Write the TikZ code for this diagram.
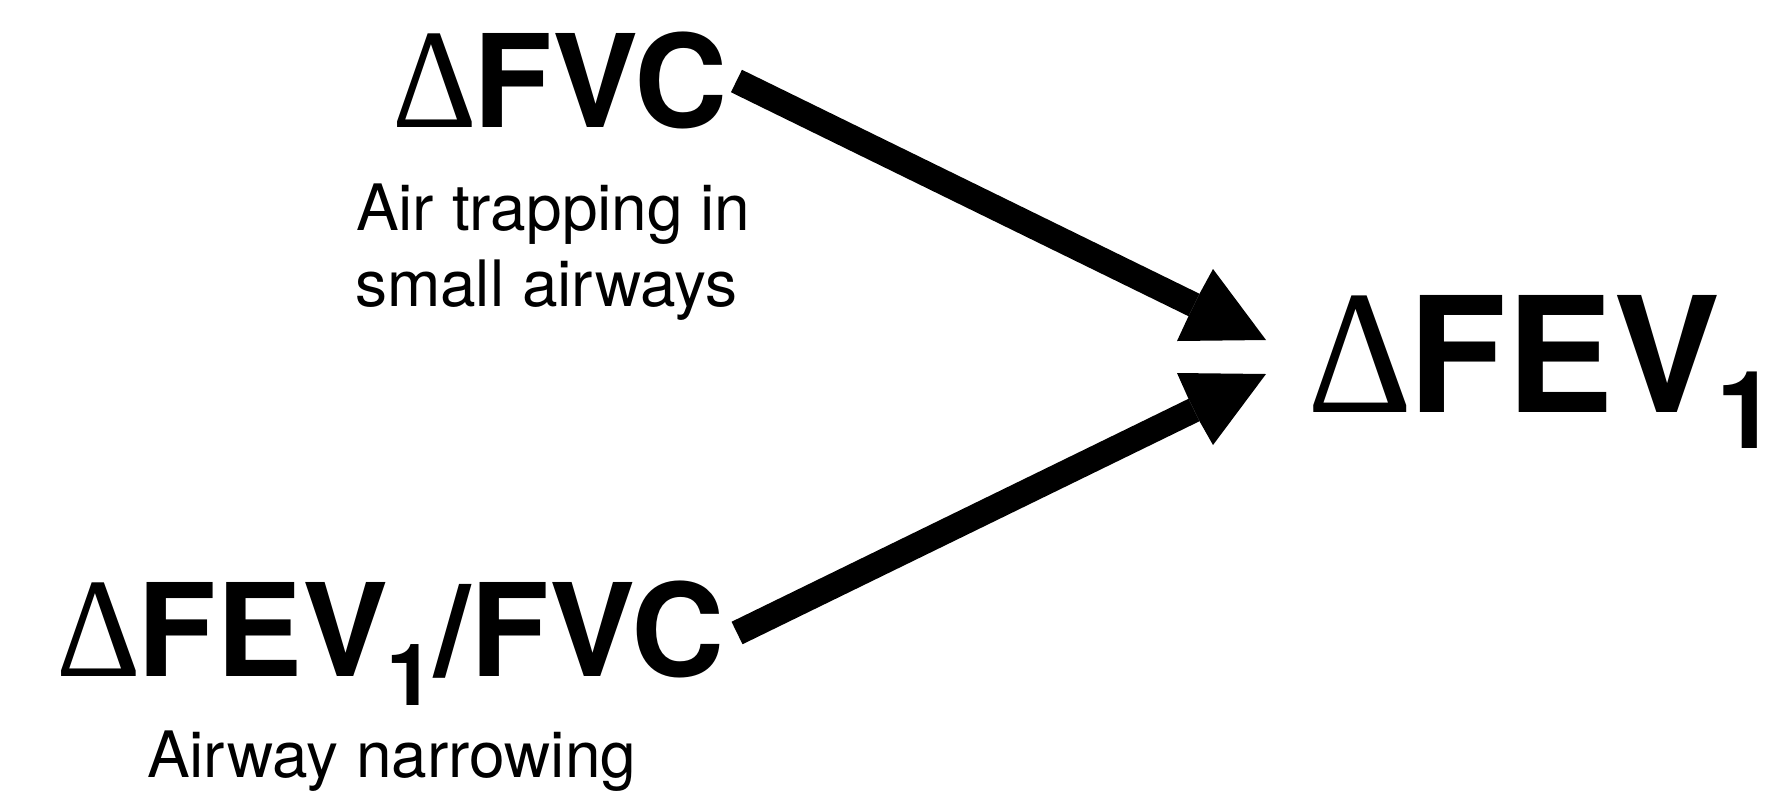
\documentclass[tikz,border=0pt]{standalone}
\usepackage{fontspec}
\usepackage{graphicx}
\setmainfont{TeX Gyre Heros}
\newfontfamily\deltafont{Liberation Serif}
\newcommand\dlt{\makebox[0.63em][l]{\scalebox{1.02}[1.1]{\deltafont\mdseries Δ}}}
\newcommand\subone[2]{\raisebox{-#1}{\fontsize{#2}{#2}\selectfont 1}}
\begin{document}
\begin{tikzpicture}[x=1pt,y=-1pt]
\tikzset{
  lab/.style={inner sep=0pt, outer sep=0pt, anchor=base west},
  big/.style={lab, font=\bfseries\fontsize{129}{130}\selectfont},
  huge/.style={lab, font=\bfseries\fontsize{160.6}{162}\selectfont},
  note/.style={lab, font=\fontsize{64}{70}\selectfont},
  conn/.style={line width=25pt, line cap=butt},
  head/.style={fill=black, draw=none}
}
\useasboundingbox (0,0) rectangle (1772,796);
\node[big] (fvc) at (392.7,127) {\dlt FVC};
\node[note] (air1) at (356,230) {Air trapping in};
\node[note] (air2) at (355,306.7) {small airways};
\node[big] (ratio) at (56.7,676) {\dlt FEV\kern-2pt\subone{29pt}{86}/FVC};
\node[note] (narrow) at (147,777) {Airway narrowing};
\node[huge] (fev) at (1307.4,412) {\dlt FEV\kern-4pt\subone{36pt}{108}};
\coordinate (h1) at (1194,305);
\coordinate (h2) at (1194,410);
\draw[conn] ([xshift=9pt,yshift=46pt]fvc.base east) -- (h1);
\draw[conn] ([xshift=13pt,yshift=43pt]ratio.base east) -- (h2);
\fill[head] (1199.5,293.8) -- (1213,269) -- (1266,340) -- (1177,341) -- (1188.5,316.2) -- cycle;
\fill[head] (1188.5,398.8) -- (1177,373) -- (1266,374) -- (1213,445) -- (1199.5,421.2) -- cycle;
\end{tikzpicture}
\end{document}
